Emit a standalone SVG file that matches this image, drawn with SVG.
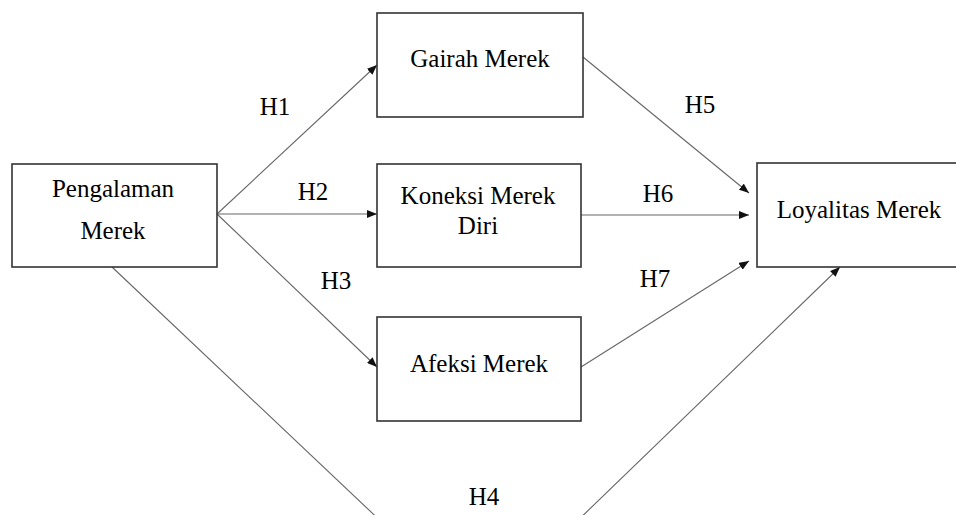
<svg xmlns="http://www.w3.org/2000/svg" width="956" height="515" viewBox="0 0 956 515">
  <style>
    .box { fill: #fff; stroke: #333; stroke-width: 1.6; }
    .lbl { font-family: "Liberation Serif", "Times New Roman", serif; font-size: 25px; fill: #000; text-anchor: middle; }
    .edge { fill: none; stroke: #666; stroke-width: 1.1; }
  </style>
  <defs>
    <marker id="arr" viewBox="0 0 10 8" refX="10" refY="4" markerWidth="10" markerHeight="8" markerUnits="userSpaceOnUse" orient="auto">
      <path d="M0,0 L10,4 L0,8 Z" fill="#111"/>
    </marker>
  </defs>
  <rect width="956" height="515" fill="#fff"/>

  <g id="connectors">
    <line class="edge" x1="217" y1="214" x2="377" y2="65" marker-end="url(#arr)"/>
    <line class="edge" x1="217" y1="214" x2="377" y2="214" marker-end="url(#arr)"/>
    <line class="edge" x1="217" y1="214" x2="377" y2="367" marker-end="url(#arr)"/>
    <polyline class="edge" points="112,267 480,615 840,267" marker-end="url(#arr)"/>
    <line class="edge" x1="583" y1="57" x2="749" y2="193" marker-end="url(#arr)"/>
    <line class="edge" x1="581" y1="215" x2="749" y2="215" marker-end="url(#arr)"/>
    <line class="edge" x1="581" y1="367" x2="749" y2="261" marker-end="url(#arr)"/>
    <text class="lbl" x="275" y="115">H1</text>
    <text class="lbl" x="313" y="200">H2</text>
    <text class="lbl" x="336" y="289">H3</text>
    <text class="lbl" x="484" y="505">H4</text>
    <text class="lbl" x="700" y="113">H5</text>
    <text class="lbl" x="658" y="202">H6</text>
    <text class="lbl" x="655" y="287">H7</text>
  </g>

  <g id="pengalaman">
    <rect class="box" x="12" y="164" width="205" height="103"/>
    <text class="lbl" x="113" y="197">Pengalaman</text>
    <text class="lbl" x="113" y="239">Merek</text>
  </g>
  <g id="gairah">
    <rect class="box" x="377" y="13" width="206" height="104"/>
    <text class="lbl" x="480" y="67">Gairah Merek</text>
  </g>
  <g id="koneksi">
    <rect class="box" x="377" y="164" width="204" height="103"/>
    <text class="lbl" x="478" y="204">Koneksi Merek</text>
    <text class="lbl" x="478" y="234">Diri</text>
  </g>
  <g id="afeksi">
    <rect class="box" x="377" y="317" width="204" height="104"/>
    <text class="lbl" x="479" y="372">Afeksi Merek</text>
  </g>
  <g id="loyalitas">
    <rect class="box" x="757" y="163" width="210" height="104"/>
    <text class="lbl" x="859" y="218">Loyalitas Merek</text>
  </g>
</svg>
